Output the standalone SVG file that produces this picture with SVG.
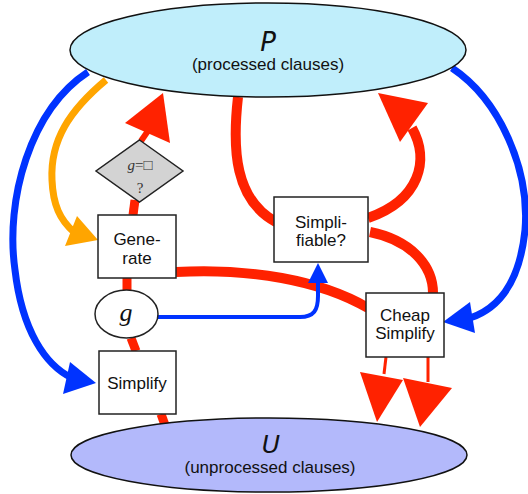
<svg xmlns="http://www.w3.org/2000/svg" width="528" height="494" viewBox="0 0 528 494">
<style>
.box{fill:#fff;stroke:#222;stroke-width:1.5}
.lbl{font-family:"Liberation Sans",Arial,sans-serif;font-size:17px;fill:#111;text-anchor:middle}
.red{fill:none;stroke:#ff2200;stroke-linecap:butt}
.redh{fill:#ff2200}
.blue{fill:none;stroke:#0033ff}
.blueh{fill:#0033ff}
</style>
<rect width="528" height="494" fill="#fff"/>
<g id="connectors">
  <!-- blue left P -> Simplify -->
  <path class="blue" stroke-width="7" d="M88,72 C 30,110 5,200 15,270 C 22,330 45,365 72,378"/>
  <polygon class="blueh" points="70,362 96,383 63,394"/>
  <!-- orange P -> Generate -->
  <path fill="none" stroke="#ffa500" stroke-width="7" d="M106,80 C 70,110 50,140 52,180 C 53,205 60,220 74,232"/>
  <polygon fill="#ffa500" points="77,216 98,240 65,246"/>
  <!-- blue right P -> Cheap Simplify -->
  <path class="blue" stroke-width="7" d="M452,68 C 500,100 530,170 525,230 C 520,280 500,308 470,318"/>
  <polygon class="blueh" points="470,302 443,322 475,333"/>
  <!-- red chain -->
  <path class="red" stroke-width="9" d="M161,414 L165,425"/>
  <path class="red" stroke-width="9" d="M131,338 L136,351"/>
  <path class="red" stroke-width="9" d="M127,290 L127,278"/>
  <path class="red" stroke-width="9" d="M133,215 L135,200"/>
  <path class="red" stroke-width="6" d="M141,141 L150,128"/>
  <polygon class="redh" points="163,93 125,123 170,143"/>
  <!-- Generate -> Cheap Simplify -->
  <path class="red" stroke-width="10" d="M176,272 C 250,268 320,280 368,308"/>
  <!-- P -> Simplifiable -->
  <path class="red" stroke-width="10" d="M238,97 C 232,150 235,200 276,222"/>
  <!-- Simplifiable -> P -->
  <path class="red" stroke-width="10" d="M368,218 C 420,200 430,160 412,128"/>
  <polygon class="redh" points="378,93 428,103 400,142"/>
  <!-- Simplifiable -> Cheap Simplify -->
  <path class="red" stroke-width="10" d="M370,232 C 410,240 433,265 433,293"/>
  <!-- Cheap Simplify -> U -->
  <path class="red" stroke-width="3" d="M386,357 L384,374"/>
  <path class="red" stroke-width="3" d="M428,357 L428,382"/>
  <polygon class="redh" points="360,372 403,380 377,422"/>
  <polygon class="redh" points="403,378 452,388 420,427"/>
  <!-- g -> Simplifiable -->
  <path class="blue" stroke-width="4" d="M158,317 L300,317 C 314,317 318,310 318,296 L318,280"/>
  <polygon class="blueh" points="318,263 308,283 328,283"/>
</g>
<g id="P">
  <ellipse cx="268" cy="50" rx="198" ry="47" fill="#c0eefb" stroke="#111" stroke-width="1.5"/>
  <text x="268" y="51" font-family="'DejaVu Sans',sans-serif" font-style="italic" font-size="26" text-anchor="middle" fill="#111">P</text>
  <text x="268" y="70" class="lbl" font-size="18">(processed clauses)</text>
</g>
<g id="U">
  <ellipse cx="269" cy="455" rx="198" ry="37" fill="#b3b9fb" stroke="#111" stroke-width="1.5"/>
  <text x="271" y="453" font-family="'DejaVu Sans',sans-serif" font-style="italic" font-size="25" text-anchor="middle" fill="#111">U</text>
  <text x="270" y="473" class="lbl" font-size="18">(unprocessed clauses)</text>
</g>
<g id="test">
  <polygon points="139.5,140 183,171 139.5,202 96,171" fill="#d3d3d3" stroke="#222" stroke-width="1.5"/>
  <text x="140" y="170" font-family="'Liberation Serif',serif" font-size="15" text-anchor="middle" fill="#333"><tspan font-style="italic">g</tspan>=□</text>
  <text x="140" y="193" font-family="'Liberation Serif',serif" font-size="15" text-anchor="middle" fill="#333">?</text>
</g>
<g id="generate">
  <rect class="box" x="98" y="215" width="78" height="63"/>
  <text x="137" y="245" class="lbl">Gene-</text>
  <text x="137" y="264" class="lbl">rate</text>
</g>
<g id="g">
  <ellipse cx="126.5" cy="314" rx="31.5" ry="24" fill="#fff" stroke="#222" stroke-width="1.5"/>
  <text x="126" y="321" font-family="'Liberation Serif',serif" font-style="italic" font-size="26" text-anchor="middle" fill="#111">g</text>
</g>
<g id="simplify">
  <rect class="box" x="99" y="351" width="77" height="63"/>
  <text x="137" y="389" class="lbl">Simplify</text>
</g>
<g id="simplifiable">
  <rect class="box" x="274" y="197" width="94" height="65"/>
  <text x="321" y="228" class="lbl">Simpli-</text>
  <text x="321" y="246" class="lbl">fiable?</text>
</g>
<g id="cheap">
  <rect class="box" x="366" y="293" width="78" height="64"/>
  <text x="405" y="321" class="lbl">Cheap</text>
  <text x="405" y="339" class="lbl">Simplify</text>
</g>
</svg>
